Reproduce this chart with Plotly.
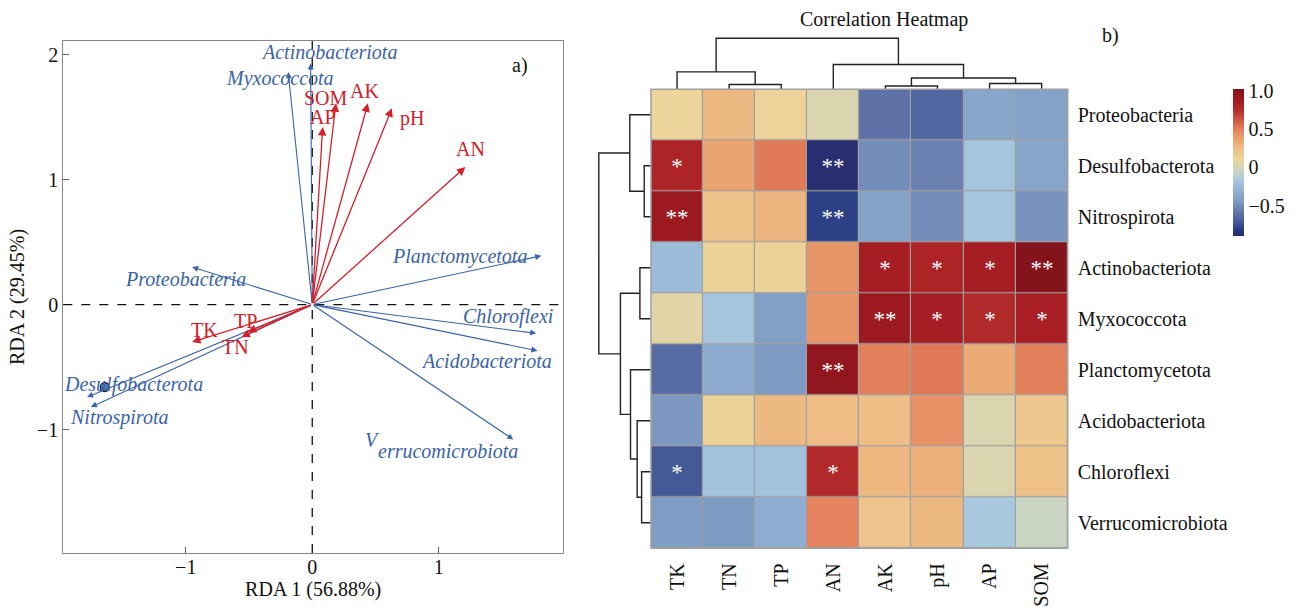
import plotly.graph_objects as go

# ---------------- RDA data ----------------
species = ["Actinobacteriota", "Myxococcota", "Proteobacteria", "Planctomycetota",
           "Chloroflexi", "Acidobacteriota", "Verrucomicrobiota", "Desulfobacterota", "Nitrospirota"]
species_x = [-0.013, -0.19, -0.95, 1.81, 1.77, 1.78, 1.59, -1.78, -1.75]
species_y = [1.93, 1.86, 0.30, 0.39, -0.23, -0.37, -1.08, -0.74, -0.82]
species_lx = [0.13, -0.255, -1.006, 1.167, 1.55, 1.38, 1.07, -1.41, -1.526]
species_ly = [2.02, 1.81, 0.206, 0.387, -0.096, -0.45, -1.17, -0.64, -0.90]

env = ["AP", "SOM", "AK", "pH", "AN", "TK", "TP", "TN"]
env_x = [0.082, 0.187, 0.44, 0.63, 1.21, -0.95, -0.51, -0.56]
env_y = [1.42, 1.61, 1.61, 1.57, 1.10, -0.30, -0.22, -0.26]
env_lx = [0.087, 0.108, 0.41, 0.79, 1.247, -0.85, -0.53, -0.61]
env_ly = [1.50, 1.655, 1.71, 1.49, 1.243, -0.20, -0.13, -0.34]

sample_x = [-1.64]
sample_y = [-0.66]

# ---------------- Heatmap data ----------------
rows = ["Proteobacteria", "Desulfobacterota", "Nitrospirota", "Actinobacteriota", "Myxococcota",
        "Planctomycetota", "Acidobacteriota", "Chloroflexi", "Verrucomicrobiota"]
cols = ["TK", "TN", "TP", "AN", "AK", "pH", "AP", "SOM"]
corr = [
    [0.10, 0.27, 0.11, 0.02, -0.60, -0.66, -0.38, -0.40],
    [0.80, 0.36, 0.52, -0.88, -0.50, -0.54, -0.20, -0.38],
    [0.90, 0.23, 0.29, -0.80, -0.40, -0.50, -0.20, -0.48],
    [-0.25, 0.12, 0.12, 0.42, 0.85, 0.80, 0.85, 1.00],
    [0.05, -0.20, -0.42, 0.42, 0.90, 0.85, 0.77, 0.83],
    [-0.63, -0.35, -0.45, 0.95, 0.50, 0.52, 0.33, 0.50],
    [-0.46, 0.12, 0.27, 0.26, 0.25, 0.43, 0.02, 0.19],
    [-0.72, -0.22, -0.22, 0.77, 0.28, 0.31, 0.02, 0.23],
    [-0.44, -0.45, -0.33, 0.49, 0.21, 0.27, -0.18, -0.05],
]
sig = [
    ["", "", "", "", "", "", "", ""],
    ["*", "", "", "**", "", "", "", ""],
    ["**", "", "", "**", "", "", "", ""],
    ["", "", "", "", "*", "*", "*", "**"],
    ["", "", "", "", "**", "*", "*", "*"],
    ["", "", "", "**", "", "", "", ""],
    ["", "", "", "", "", "", "", ""],
    ["*", "", "", "*", "", "", "", ""],
    ["", "", "", "", "", "", "", ""],
]
# dendrogram merges: (left, right, height)
col_merges = [("TN", "TP", 4.7), ("TK", "c0", 17.3), ("AK", "pH", 3.3), ("AP", "SOM", 5.7),
              ("c2", "c3", 11.3), ("AN", "c4", 24.7), ("c1", "c5", 50.7)]
row_merges = [("Desulfobacterota", "Nitrospirota", 6.7), ("Proteobacteria", "c0", 21.0),
              ("Actinobacteriota", "Myxococcota", 11.0), ("Chloroflexi", "Verrucomicrobiota", 9.3),
              ("Acidobacteriota", "c3", 13.7), ("Planctomycetota", "c4", 20.3),
              ("c2", "c5", 30.3), ("c1", "c6", 51.7)]

BLUE = "#3A62A7"
RED = "#D3202B"
SERIF = "Liberation Serif, Times New Roman, serif"
W, H = 1302, 607

cmin, cmax = -0.9, 1.02
anchors = [(-0.90, "#282A68"), (-0.82, "#273A82"), (-0.70, "#4A5F9C"), (-0.60, "#5E72A8"),
           (-0.45, "#7E9BC3"), (-0.30, "#93B2D3"), (-0.18, "#A8C8E0"), (-0.06, "#C8D4C6"),
           (0.02, "#DAD5AE"), (0.10, "#EDD59B"), (0.25, "#EEBE86"), (0.40, "#E89A6A"),
           (0.50, "#E3805C"), (0.72, "#B8332F"), (0.82, "#AB1F24"), (0.92, "#9A181F"),
           (1.02, "#80121A")]
colorscale = [[(v - cmin) / (cmax - cmin), c] for v, c in anchors]


def dendro_lines(leaves, merges):
    pos = {name: i for i, name in enumerate(leaves)}
    hgt = {name: 0.0 for name in leaves}
    px, ph = [], []
    for k, (a, b, h) in enumerate(merges):
        xa, xb = pos[a], pos[b]
        px += [xa, xa, xb, xb, None]
        ph += [hgt[a], h, h, hgt[b], None]
        pos["c%d" % k] = (xa + xb) / 2
        hgt["c%d" % k] = h
    return px, ph


fig = go.Figure()

# ---- RDA panel ----
fig.add_trace(go.Scatter(x=sample_x, y=sample_y, mode="markers",
                         marker=dict(size=9, color="#4F79B8", line=dict(color="#1a1a1a", width=1.2)),
                         showlegend=False, xaxis="x", yaxis="y", hoverinfo="skip"))

ann = []
for name, x, y in zip(species, species_x, species_y):
    ann.append(dict(x=x, y=y, ax=0, ay=0, xref="x", yref="y", axref="x", ayref="y",
                    showarrow=True, arrowhead=2, arrowsize=1.1, arrowwidth=1.1,
                    arrowcolor=BLUE, text=""))
for name, x, y in zip(env, env_x, env_y):
    ann.append(dict(x=x, y=y, ax=0, ay=0, xref="x", yref="y", axref="x", ayref="y",
                    showarrow=True, arrowhead=2, arrowsize=1.3, arrowwidth=1.3,
                    arrowcolor=RED, text=""))
for name, x, y in zip(species, species_lx, species_ly):
    if name == "Verrucomicrobiota":
        ann.append(dict(x=0.48, y=-1.085, xref="x", yref="y", showarrow=False, text="<i>V</i>",
                        font=dict(family=SERIF, size=20, color=BLUE)))
        ann.append(dict(x=x, y=y, xref="x", yref="y", showarrow=False, text="<i>errucomicrobiota</i>",
                        font=dict(family=SERIF, size=20, color=BLUE)))
    else:
        ann.append(dict(x=x, y=y, xref="x", yref="y", showarrow=False, text="<i>%s</i>" % name,
                        font=dict(family=SERIF, size=20, color=BLUE)))
for name, x, y in zip(env, env_lx, env_ly):
    ann.append(dict(x=x, y=y, xref="x", yref="y", showarrow=False, text=name,
                    font=dict(family=SERIF, size=20, color=RED)))
ann.append(dict(x=1.64, y=1.91, xref="x", yref="y", showarrow=False, text="a)",
                font=dict(family=SERIF, size=20, color="#111")))

# ---- Heatmap ----
fig.add_trace(go.Heatmap(z=corr, x=list(range(len(cols))), y=list(range(len(rows))),
                         text=sig, texttemplate="%{text}",
                         textfont=dict(family=SERIF, size=23, color="white"),
                         colorscale=colorscale, zmin=cmin, zmax=cmax, xgap=1.2, ygap=1.2,
                         xaxis="x2", yaxis="y2", hoverinfo="skip",
                         colorbar=dict(x=1233 / W, xanchor="left", y=1 - 89.3 / H, yanchor="top",
                                       len=146.7 / H, lenmode="fraction", thickness=10.5,
                                       xpad=0, ypad=0,
                                       outlinewidth=0, tickvals=[-0.5, 0, 0.5, 1.0],
                                       ticktext=["\u22120.5", "0", "0.5", "1.0"], ticks="",
                                       tickfont=dict(family=SERIF, size=20, color="#111"))))

cx, ch = dendro_lines(cols, col_merges)
fig.add_trace(go.Scatter(x=cx, y=ch, mode="lines", line=dict(color="#222", width=1.4),
                         xaxis="x3", yaxis="y3", showlegend=False, hoverinfo="skip"))
ry, rh = dendro_lines(rows, row_merges)
fig.add_trace(go.Scatter(x=rh, y=ry, mode="lines", line=dict(color="#222", width=1.4),
                         xaxis="x4", yaxis="y4", showlegend=False, hoverinfo="skip"))

ann.append(dict(x=884 / W, y=1 - 19 / H, xref="paper", yref="paper", showarrow=False,
                xanchor="center", yanchor="middle",
                text="Correlation Heatmap", font=dict(family=SERIF, size=20, color="#111")))
ann.append(dict(x=1110 / W, y=1 - 35 / H, xref="paper", yref="paper", showarrow=False,
                xanchor="center", yanchor="middle",
                text="b)", font=dict(family=SERIF, size=20, color="#111")))

hx0, hx1 = 651 / W, 1067.7 / W
hy0, hy1 = 1 - 548.3 / H, 1 - 89.3 / H

shapes = [
    dict(type="line", xref="x", yref="y domain", x0=0, x1=0, y0=0, y1=1,
         line=dict(color="#111", width=1.3, dash="dash")),
    dict(type="line", xref="x domain", yref="y", x0=0, x1=1, y0=0, y1=0,
         line=dict(color="#111", width=1.3, dash="dash")),
    dict(type="rect", xref="x2 domain", yref="y2 domain", x0=0, x1=1, y0=0, y1=1,
         fillcolor="#A0A0A0", line=dict(width=0), layer="below"),
    dict(type="rect", xref="paper", yref="paper", x0=hx0, x1=hx1, y0=hy0, y1=hy1,
         line=dict(color="#A0A0A0", width=1.5), fillcolor="rgba(0,0,0,0)"),
]

axfont = dict(family=SERIF, size=20, color="#111")
fig.update_layout(
    width=W, height=H, margin=dict(l=0, r=0, t=0, b=0),
    paper_bgcolor="white", plot_bgcolor="white", showlegend=False,
    annotations=ann, shapes=shapes,
    xaxis=dict(domain=[63.3 / W, 563 / W], range=[-1.968, 1.982], tickvals=[-1, 0, 1],
               ticks="inside", ticklen=6, tickcolor="#666", showgrid=False, zeroline=False,
               showline=True, linecolor="#888", linewidth=1.3, mirror=True,
               ticklabelstandoff=-4,
               tickfont=axfont, title=dict(text="RDA 1 (56.88%)", font=axfont, standoff=2),
               anchor="y"),
    yaxis=dict(domain=[1 - 553 / H, 1 - 41 / H], range=[-1.988, 2.109], tickvals=[-1, 0, 1, 2],
               ticks="inside", ticklen=6, tickcolor="#666", showgrid=False, zeroline=False,
               showline=True, linecolor="#888", linewidth=1.3, mirror=True,
               tickfont=axfont, title=dict(text="RDA 2 (29.45%)", font=axfont, standoff=6),
               anchor="x"),
    xaxis2=dict(domain=[hx0, hx1], range=[-0.5, len(cols) - 0.5], tickvals=list(range(len(cols))),
                ticktext=cols, tickangle=-90, ticks="outside", ticklen=6,
                tickcolor="rgba(0,0,0,0)", showgrid=False, zeroline=False, showline=False,
                tickfont=axfont, anchor="y2"),
    yaxis2=dict(domain=[hy0, hy1], range=[len(rows) - 0.5, -0.5], tickvals=list(range(len(rows))),
                ticktext=rows, side="right", ticks="outside", ticklen=5,
                tickcolor="rgba(0,0,0,0)", showgrid=False, zeroline=False, showline=False,
                tickfont=axfont, anchor="x2"),
    xaxis3=dict(domain=[hx0, hx1], range=[-0.5, len(cols) - 0.5], visible=False, anchor="y3"),
    yaxis3=dict(domain=[hy1, 1 - 37 / H], range=[0, 52], visible=False, anchor="x3"),
    xaxis4=dict(domain=[597 / W, hx0], range=[53.5, 0], visible=False, anchor="y4"),
    yaxis4=dict(domain=[hy0, hy1], range=[len(rows) - 0.5, -0.5], visible=False, anchor="x4"),
)

fig.write_html("out.html")
